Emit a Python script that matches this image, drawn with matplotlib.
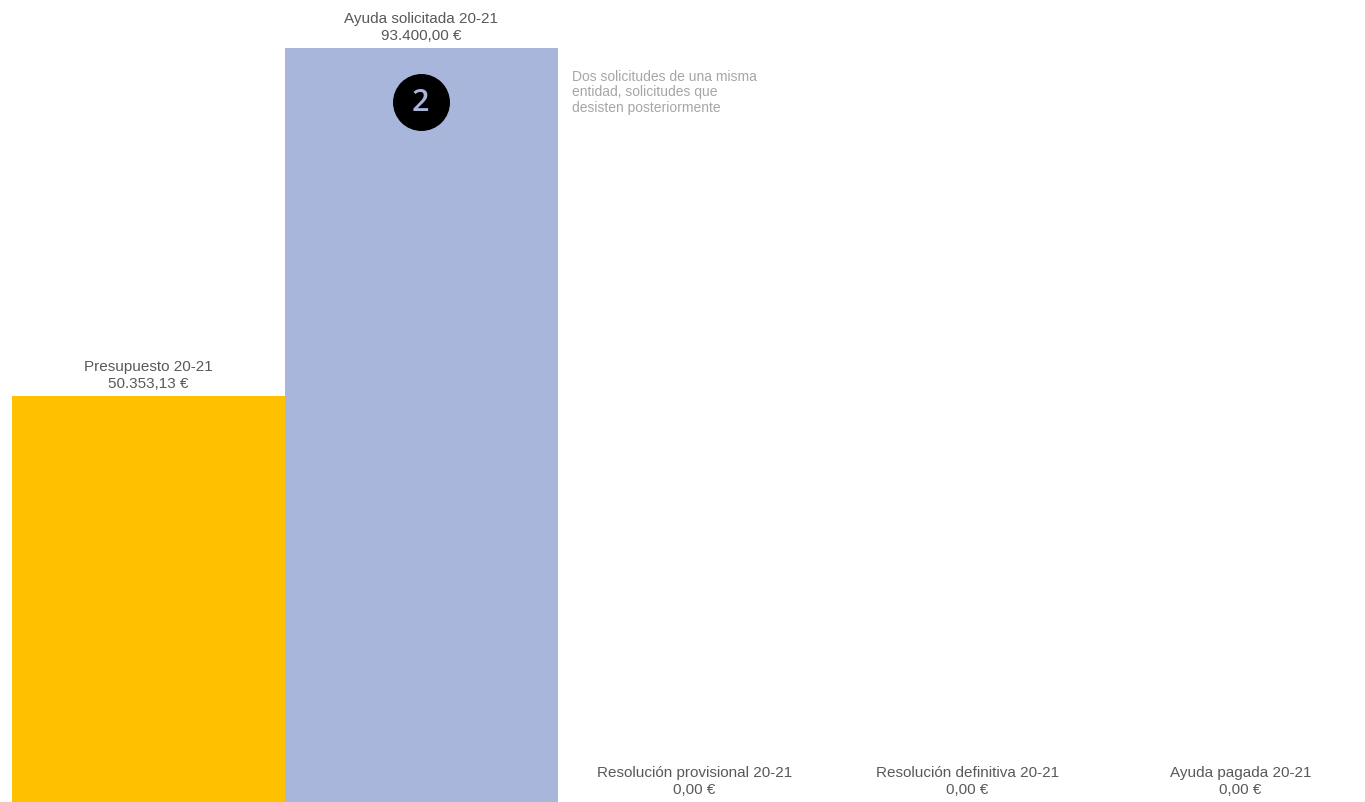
import matplotlib
matplotlib.use("Agg")
import matplotlib.pyplot as plt
from matplotlib.transforms import offset_copy

# Budget figures 20-21
categories = ["Presupuesto 20-21", "Ayuda solicitada 20-21", "Resolución provisional 20-21",
              "Resolución definitiva 20-21", "Ayuda pagada 20-21"]
values = [50353.13, 93400.00, 0.00, 0.00, 0.00]
colors = ["#FFC000", "#A9B6DB", "#A9B6DB", "#A9B6DB", "#A9B6DB"]
note = "Dos solicitudes de una misma\nentidad, solicitudes que\ndesisten posteriormente"
badge = "2"


def euro(v):
    s = f"{v:,.2f}"
    s = s.replace(",", "X").replace(".", ",").replace("X", ".")
    return s + " €"


plt.rcParams["font.family"] = ["Liberation Sans", "DejaVu Sans"]

W, H = 1365, 803
fig = plt.figure(figsize=(W / 100, H / 100), dpi=100)
# axes: 5 slots of 273 px starting at x=12, top of tallest bar at y=49
ax = fig.add_axes([12 / W, 0, 1365 / W, 754 / H])
x = range(len(values))
ax.bar(x, values, width=1.0, color=colors, linewidth=0)
ax.set_xlim(-0.5, 4.5)
ax.set_ylim(0, max(values))
ax.axis("off")

for i, (c, v) in enumerate(zip(categories, values)):
    ax.annotate(c + "\n" + euro(v), xy=(i, v), xytext=(0, 4), textcoords="offset points",
                ha="center", va="bottom", fontsize=11, color="#595959",
                linespacing=1.3, annotation_clip=False)

# badge on the second bar
tr = offset_copy(ax.transData, fig=fig, x=-0.5, y=-39, units="points")
ax.plot([1], [values[1]], marker="o", markersize=40, color="black", transform=tr, clip_on=False)
ax.text(1, values[1], badge, transform=tr, ha="center", va="center", fontsize=22,
        fontweight="semibold", color="#A9B6DB", family=["Open Sans", "DejaVu Sans"])

# side note
tr2 = offset_copy(ax.transData, fig=fig, x=10, y=-15, units="points")
ax.text(1.5, values[1], note, transform=tr2, ha="left", va="top", fontsize=10,
        color="#A6A6A6", linespacing=1.15)

fig.savefig("out.png", dpi=100)
